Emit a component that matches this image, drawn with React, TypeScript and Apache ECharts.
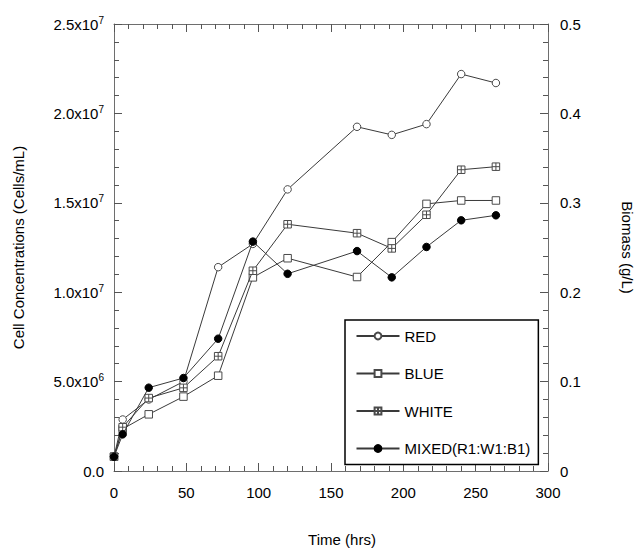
import React, { useEffect, useRef } from "react";
import * as echarts from "echarts";

const timeHrs = [0, 6, 24, 48, 72, 96, 120, 168, 192, 216, 240, 264];
// cell concentrations in units of 1e6 cells/mL
const redVals = [0.8, 2.88, 4.0, 5.0, 11.4, 12.7, 15.75, 19.25, 18.8, 19.4, 22.2, 21.7];
const blueVals = [0.8, 2.35, 3.17, 4.16, 5.33, 10.83, 11.9, 10.85, 12.8, 14.94, 15.13, 15.13];
const whiteVals = [0.8, 2.45, 4.08, 4.65, 6.42, 11.2, 13.8, 13.3, 12.45, 14.33, 16.85, 17.02];
const mixedVals = [0.8, 2.05, 4.66, 5.2, 7.4, 12.83, 11.03, 12.3, 10.83, 12.53, 14.02, 14.3];

const seriesNames = ["RED", "BLUE", "WHITE", "MIXED(R1:W1:B1)"];
const leftTickBases = ["0.0", "5.0x10", "1.0x10", "1.5x10", "2.0x10", "2.5x10"];
const leftTickExps = ["", "6", "7", "7", "7", "7"];
const rightTickLabels = ["0", "0.1", "0.2", "0.3", "0.4", "0.5"];

const SCALE = 1e6;
const FONT = "'Liberation Sans', Arial, sans-serif";

const crossSquare = "path://M0,0H10V10H0Z M5,0V10 M0,5H10";

export default function App() {
  const ref = useRef<HTMLDivElement>(null);
  useEffect(() => {
    document.body.style.margin = "0";
    const chart = echarts.init(ref.current!, null, { renderer: "svg" });
    const pts = (vals: number[]) => timeHrs.map((t, i) => [t, vals[i] * SCALE]);
    const lineStyle = { color: "#3a3a3a", width: 1 };
    const openItem = { color: "#ffffff", borderColor: "#4a4a4a", borderWidth: 1 };
    const axisGray = "#555555";
    const mk = () => ({
      axisLine: { show: true, onZero: false, lineStyle: { color: "#6e6e6e", width: 1 } },
      axisTick: { show: true, inside: true, length: 8, lineStyle: { color: axisGray, width: 1 } },
      minorTick: { show: true, splitNumber: 5, length: 5, lineStyle: { color: axisGray, width: 1 } },
      splitLine: { show: false },
    });
    chart.setOption({
      animation: false,
      backgroundColor: "#ffffff",
      textStyle: { fontFamily: FONT },
      grid: { left: 114, top: 24, width: 434, height: 452, containLabel: false },
      legend: {
        orient: "vertical",
        left: 345,
        top: 320,
        itemWidth: 43,
        itemHeight: 8.5,
        itemGap: 22.5,
        padding: [8.5, 8, 8.5, 10.5],
        borderColor: "#000000",
        borderWidth: 1.5,
        backgroundColor: "#ffffff",
        textStyle: { fontSize: 15, color: "#000000", fontFamily: FONT },
        data: seriesNames,
      },
      xAxis: [
        {
          type: "value",
          min: 0,
          max: 300,
          interval: 50,
          ...mk(),
          position: "bottom",
          name: "Time (hrs)",
          nameLocation: "middle",
          nameGap: 61,
          nameTextStyle: { fontSize: 15, color: "#000000", padding: [0, 0, 0, 22] },
          axisLabel: { fontSize: 15, color: "#000000", margin: 14 },
        },
        {
          type: "value",
          min: 0,
          max: 300,
          interval: 50,
          ...mk(),
          position: "top",
          axisLabel: { show: false },
        },
      ],
      yAxis: [
        {
          type: "value",
          position: "left",
          min: 0,
          max: 2.5e7,
          interval: 5e6,
          name: "Cell Concentrations (Cells/mL)",
          nameLocation: "middle",
          nameRotate: 90,
          nameGap: 88,
          nameTextStyle: { fontSize: 15, color: "#000000" },
          ...mk(),
          axisLabel: {
            margin: 10,
            color: "#000000",
            formatter: (v: number) => {
              const i = Math.round(v / 5e6);
              const e = leftTickExps[i];
              return e ? `{b|${leftTickBases[i]}}{s|${e}}` : `{b|${leftTickBases[i]}}`;
            },
            rich: {
              b: { fontSize: 15, lineHeight: 18, color: "#000000", fontFamily: FONT },
              s: { fontSize: 10, lineHeight: 10, verticalAlign: "top", color: "#000000", fontFamily: FONT, padding: [0, 0, 6, 0] },
            },
          },
        },
        {
          type: "value",
          position: "right",
          min: 0,
          max: 0.5,
          interval: 0.1,
          name: "Biomass (g/L)",
          nameLocation: "middle",
          nameRotate: -90,
          nameGap: 72,
          nameTextStyle: { fontSize: 15, color: "#000000" },
          ...mk(),
          axisLabel: {
            margin: 12,
            fontSize: 15,
            color: "#000000",
            formatter: (v: number) => rightTickLabels[Math.round(v * 10)],
          },
        },
      ],
      series: [
        {
          name: seriesNames[0],
          type: "line",
          data: pts(redVals),
          symbol: "circle",
          symbolSize: 7.5,
          lineStyle,
          itemStyle: openItem,
          z: 3,
        },
        {
          name: seriesNames[1],
          type: "line",
          data: pts(blueVals),
          symbol: "rect",
          symbolSize: 7.5,
          lineStyle,
          itemStyle: openItem,
          z: 4,
        },
        {
          name: seriesNames[2],
          type: "line",
          data: pts(whiteVals),
          symbol: crossSquare,
          symbolSize: 7.5,
          lineStyle,
          itemStyle: openItem,
          z: 5,
        },
        {
          name: seriesNames[3],
          type: "line",
          data: pts(mixedVals),
          symbol: "circle",
          symbolSize: 7.5,
          lineStyle,
          itemStyle: { color: "#000000", borderColor: "#000000", borderWidth: 1 },
          z: 6,
        },
      ],
    });
    return () => chart.dispose();
  }, []);
  return <div ref={ref} style={{ position: "fixed", left: 0, top: 0, width: 644, height: 552 }} />;
}
